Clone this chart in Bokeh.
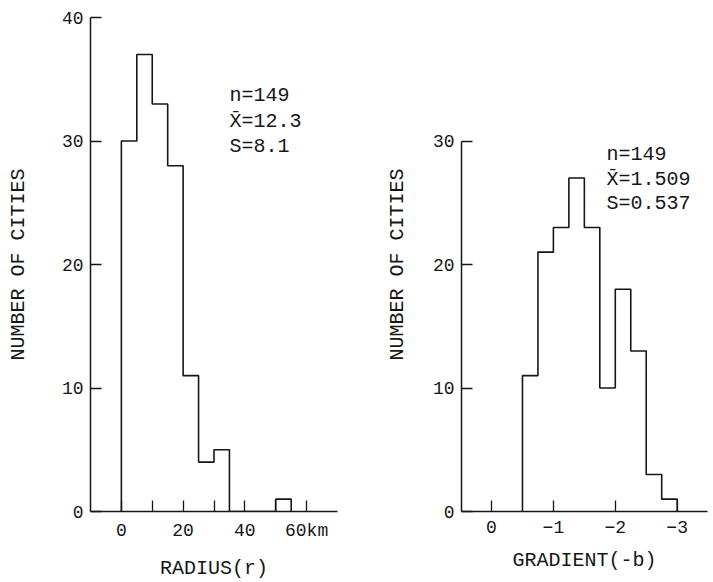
from bokeh.plotting import figure
from bokeh.models import Range1d, FixedTicker, Label
from bokeh.layouts import row
from bokeh.embed import file_html
from bokeh.resources import INLINE

# ---- data: left histogram, city radius r (km), bins of 5 km ----
radius_edges = [0, 5, 10, 15, 20, 25, 30, 35, 40, 45, 50, 55]
radius_counts = [30, 37, 33, 28, 11, 4, 5, 0, 0, 0, 1]
radius_ticks = [0, 20, 40, 60]
radius_minor_ticks = [10, 30, 50]
radius_tick_labels = ["0", "20", "40", "60km"]

# ---- data: right histogram, density gradient b, bins of 0.25 ----
gradient_edges = [-0.5, -0.75, -1.0, -1.25, -1.5, -1.75, -2.0, -2.25, -2.5, -2.75, -3.0]
gradient_counts = [11, 21, 23, 27, 23, 10, 18, 13, 3, 1]
gradient_ticks = [0, -1, -2, -3]
gradient_tick_labels = ["0", "\u22121", "\u22122", "\u22123"]

count_ticks_left = [0, 10, 20, 30, 40]
count_ticks_right = [0, 10, 20, 30]

stats_left = ["n=149", "X\u0304=12.3", "S=8.1"]
stats_right = ["n=149", "X\u0304=1.509", "S=0.537"]

FONT = "Liberation Mono"
FS = "18px"
FS_TEXT = "20px"
INK = "#161616"


def outline(edges, counts):
    xs = [edges[0]]
    ys = [0]
    for i, c in enumerate(counts):
        xs += [edges[i], edges[i + 1]]
        ys += [c, c]
    xs.append(edges[-1])
    ys.append(0)
    return xs, ys


def make_fig(width, x_range, bl, br, xlabel, ylabel, ylabel_standoff):
    p = figure(width=width, height=582, x_range=x_range, y_range=Range1d(0, 40),
               output_backend="svg", toolbar_location=None,
               min_border_left=bl, min_border_right=br,
               min_border_top=17, min_border_bottom=70,
               x_axis_label=xlabel, y_axis_label=ylabel)
    p.grid.visible = False
    p.outline_line_color = None
    p.background_fill_color = "white"
    p.border_fill_color = "white"
    for ax in (p.xaxis[0], p.yaxis[0]):
        ax.axis_line_color = INK
        ax.axis_line_width = 1.5
        ax.major_tick_line_color = INK
        ax.major_tick_line_width = 1.3
        ax.major_tick_in = 11
        ax.major_tick_out = 0
        ax.minor_tick_line_color = None
        ax.major_label_text_font = FONT
        ax.major_label_text_font_size = FS
        ax.major_label_text_color = INK
        ax.axis_label_text_font = FONT
        ax.axis_label_text_font_size = FS_TEXT
        ax.axis_label_text_font_style = "normal"
        ax.axis_label_text_color = INK
    p.xaxis.major_label_standoff = 9
    p.yaxis.major_label_standoff = 7
    p.xaxis.axis_label_standoff = 13
    p.yaxis.axis_label_standoff = ylabel_standoff
    return p


def add_label(p, text, x, y):
    p.add_layout(Label(x=x, y=y, x_units="screen", y_units="screen", text=text,
                       text_font=FONT, text_font_size=FS_TEXT, text_color=INK,
                       text_align="left", text_baseline="middle"))


# ---- left panel ----
p1 = make_fig(356, Range1d(-10, 70), 90, 19, "RADIUS(r)", "NUMBER OF CITIES", 29)
xs, ys = outline(radius_edges, radius_counts)
p1.line(xs, ys, line_color=INK, line_width=1.6)
p1.xaxis.ticker = FixedTicker(ticks=radius_ticks, minor_ticks=radius_minor_ticks)
p1.xaxis.minor_tick_line_color = INK
p1.xaxis.minor_tick_line_width = 1.3
p1.xaxis.minor_tick_in = 11
p1.xaxis.minor_tick_out = 0
p1.xaxis.major_label_overrides = dict(zip(radius_ticks, radius_tick_labels))
p1.yaxis.ticker = FixedTicker(ticks=count_ticks_left)
for i, s in enumerate(stats_left):
    add_label(p1, s, 139, 416 - 25.5 * i)

# ---- right panel ----
p2 = make_fig(357, Range1d(0.485, -3.49), 105, 6, "GRADIENT(-b)", "NUMBER OF CITIES", 21)
xs, ys = outline(gradient_edges, gradient_counts)
p2.line(xs, ys, line_color=INK, line_width=1.6)
p2.xaxis.ticker = FixedTicker(ticks=gradient_ticks)
p2.xaxis.major_label_overrides = dict(zip(gradient_ticks, gradient_tick_labels))
p2.yaxis.ticker = FixedTicker(ticks=count_ticks_right)
p2.yaxis.bounds = (0, 30)
for i, s in enumerate(stats_right):
    add_label(p2, s, 145, 357 - 24.5 * i)

layout = row(p1, p2)
open("out.html", "w").write(file_html(layout, INLINE))
